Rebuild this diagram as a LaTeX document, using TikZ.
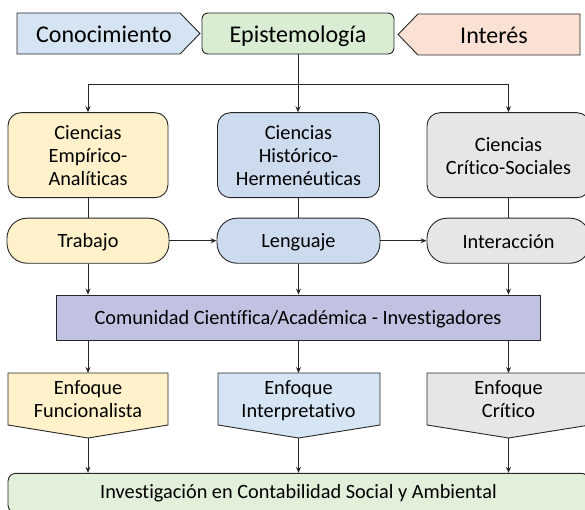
\documentclass[tikz,border=0pt]{standalone}
\usepackage{fontspec}
\setmainfont{Carlito}[Ligatures={NoCommon}]
\usetikzlibrary{arrows.meta}
\definecolor{cblue}{HTML}{D5E4F2}
\definecolor{cgreen}{HTML}{D9EDD3}
\definecolor{cpeach}{HTML}{FBE1D3}
\definecolor{cyellow}{HTML}{FFF1CA}
\definecolor{cbluetwo}{HTML}{CDDBEF}
\definecolor{cbluethree}{HTML}{D5E5F4}
\definecolor{cgray}{HTML}{E6E6E6}
\definecolor{clav}{HTML}{C1C1E2}
\definecolor{cgreentwo}{HTML}{E2F0DA}
\definecolor{edgec}{HTML}{262626}
\newcommand{\ms}{\rule[-3pt]{0pt}{21pt}}
\newcommand{\bs}{\rule[-3pt]{0pt}{24.4pt}}
\newcommand{\ls}{\rule[-5pt]{0pt}{20.3pt}}
\tikzset{
  bigtxt/.style={font=\fontsize{24}{28}\selectfont, inner sep=0pt},
  midtxt/.style={font=\fontsize{20.3}{23.3}\selectfont, inner sep=0pt, align=center},
  shapebox/.style={draw=edgec, line width=0.9pt},
  scibox/.style={shapebox, midtxt, rounded corners=13pt, minimum height=85pt},
  pillbox/.style={shapebox, midtxt, rounded corners=20pt, minimum height=45pt},
  arr/.style={draw=edgec, line width=0.9pt, -{Stealth[length=6pt,width=5pt]}},
  ln/.style={draw=edgec, line width=0.9pt}
}
\begin{document}
\begin{tikzpicture}[x=1pt,y=-1pt]
\useasboundingbox (0,0) rectangle (585,510);
% top row
\path[shapebox, fill=cblue] (17,13) -- (180,13) -- (200,33.5) -- (180,54) -- (17,54) -- cycle;
\node[bigtxt] (con) at (104,33.5) {\bs Conocimiento};
\node[shapebox, bigtxt, fill=cgreen, rounded corners=6pt, minimum width=192pt, minimum height=41pt] (epi) at (298,33.5) {\bs Epistemología};
\path[shapebox, fill=cpeach] (580,14) -- (418,14) -- (398,34.5) -- (418,55) -- (580,55) -- cycle;
\node[bigtxt] (int) at (494,34.5) {\bs Interés};
% ciencias
\node[scibox, fill=cyellow, minimum width=160pt] (s1) at (88,155.2) {\ms Ciencias\\\ms Empírico-\\\ms Analíticas};
\node[scibox, fill=cbluetwo, minimum width=162pt] (s2) at (298.5,155.2) {\ms Ciencias\\\ms Histórico-\\\ms Hermenéuticas};
\node[scibox, fill=cgray, minimum width=163pt] (s3) at (508.5,155.2) {\ms Ciencias\\\ms Crítico-Sociales};
% pills
\node[pillbox, fill=cyellow, minimum width=162pt] (p1) at (88,240.7) {\ms Trabajo};
\node[pillbox, fill=cbluetwo, minimum width=163pt] (p2) at (298.5,240.7) {\ms Lenguaje};
\node[pillbox, fill=cgray, minimum width=163pt] (p3) at (508.5,240.7) {\ms Interacción};
% comunidad
\node[shapebox, midtxt, fill=clav, minimum width=484pt, minimum height=45pt] (com) at (298,317.5) {\ms Comunidad Científica/Académica - Investigadores};
% enfoques
\path[shapebox, fill=cyellow] (8,373) -- (168,373) -- (168,425) -- (88,438) -- (8,425) -- cycle;
\path[shapebox, fill=cbluethree] (218,373) -- (380,373) -- (380,425) -- (298.5,438) -- (218,425) -- cycle;
\path[shapebox, fill=cgray] (427,373) -- (590,373) -- (590,425) -- (508.5,438) -- (427,425) -- cycle;
\node[midtxt] (e1) at (88,398.5) {\ms Enfoque\\\ms Funcionalista};
\node[midtxt] (e2) at (298.5,398.5) {\ms Enfoque\\\ms Interpretativo};
\node[midtxt] (e3) at (508.5,398.5) {\ms Enfoque\\\ms Crítico};
\coordinate (e1t) at (88,373); \coordinate (e1b) at (88,438);
\coordinate (e2t) at (298.5,373); \coordinate (e2b) at (298.5,438);
\coordinate (e3t) at (508.5,373); \coordinate (e3b) at (508.5,438);
% bottom
\node[shapebox, midtxt, fill=cgreentwo, rounded corners=8pt, minimum width=581pt, minimum height=39.7pt] (inv) at (298.5,493.15) {\ls Investigación en Contabilidad Social y Ambiental};
% connectors
\coordinate (jl) at (88,84);
\coordinate (jr) at (508.5,84);
\draw[arr] (epi.south) -- (epi.south |- s2.north);
\draw[ln] (jl) -- (jr);
\draw[arr] (jl) -- (s1.north);
\draw[arr] (jr) -- (s3.north);
\draw[ln] (s1.south) -- (p1.north);
\draw[ln] (s2.south) -- (p2.north);
\draw[ln] (s3.south) -- (p3.north);
\draw[arr] (p1.east) -- (p2.west);
\draw[arr] (p2.east) -- (p3.west);
\draw[arr] (p1.south) -- (p1.south |- com.north);
\draw[arr] (p2.south) -- (p2.south |- com.north);
\draw[arr] (p3.south) -- (p3.south |- com.north);
\draw[arr] (e1t |- com.south) -- (e1t);
\draw[arr] (e2t |- com.south) -- (e2t);
\draw[arr] (e3t |- com.south) -- (e3t);
\draw[arr] (e1b) -- (e1b |- inv.north);
\draw[arr] (e2b) -- (e2b |- inv.north);
\draw[arr] (e3b) -- (e3b |- inv.north);
\end{tikzpicture}
\end{document}
